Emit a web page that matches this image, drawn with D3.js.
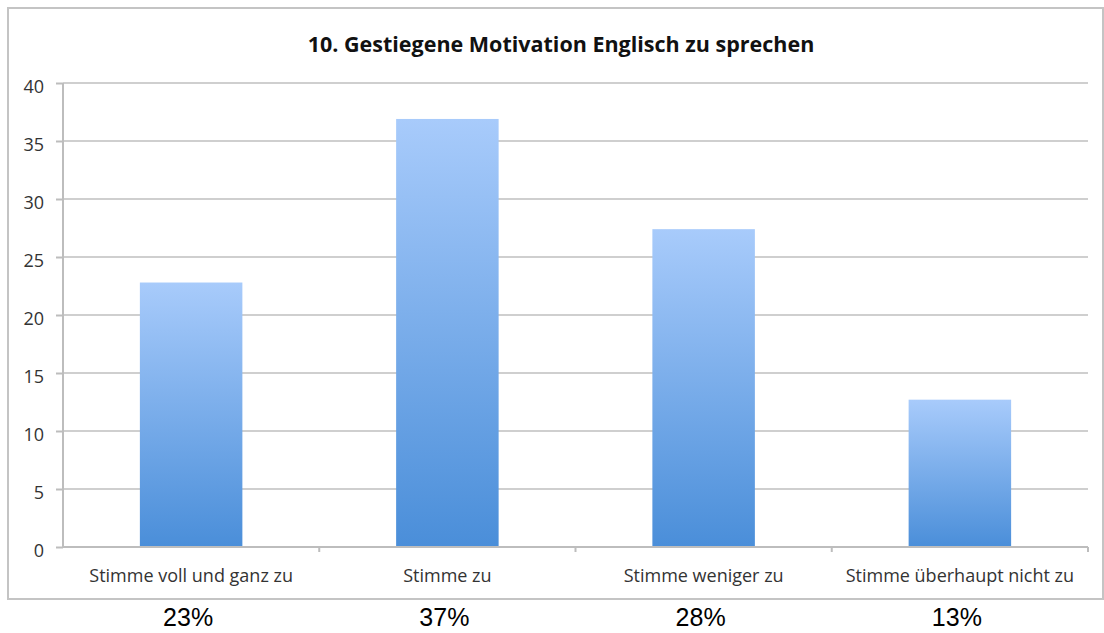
<html>
<head>
<script src="https://cdn.jsdelivr.net/npm/d3@7"></script>
<style>
  body { margin: 0; background: #fff; }
  .grid line { stroke: #cfcfcf; stroke-width: 2px; }
  .axis path, .axis line { stroke: #bdbdbd; stroke-width: 2px; }
  .axis text { font-family: "Open Sans", Lato, sans-serif; font-size: 18px; fill: #333; }
</style>
</head>
<body>
<script>
// Daten
var categories = ["Stimme voll und ganz zu", "Stimme zu", "Stimme weniger zu", "Stimme überhaupt nicht zu"];
var values = [22.8, 36.9, 27.4, 12.7];
var percents = ["23%", "37%", "28%", "13%"];
var yTicks = [0, 5, 10, 15, 20, 25, 30, 35, 40];
var title = "10. Gestiegene Motivation Englisch zu sprechen";

var W = 1104, H = 633;
var margin = {top: 83, left: 63, right: 16, bottom: 86};
var width = W - margin.left - margin.right,
    height = H - margin.top - margin.bottom;

var svg = d3.select("body").append("svg")
  .attr("width", W).attr("height", H);

var defs = svg.append("defs");
var grad = defs.append("linearGradient")
  .attr("id", "barGrad").attr("x1", 0).attr("y1", 0).attr("x2", 0).attr("y2", 1);
grad.append("stop").attr("offset", "0%").attr("stop-color", "#a8cbfb");
grad.append("stop").attr("offset", "100%").attr("stop-color", "#4a8ed9");

// Rahmen
svg.append("rect")
  .attr("x", 8).attr("y", 8).attr("width", 1095).attr("height", 591)
  .attr("fill", "#fff").attr("stroke", "#c4c4c4").attr("stroke-width", 2);

svg.append("text")
  .attr("x", 561).attr("y", 52)
  .attr("text-anchor", "middle")
  .style("font-family", "'Open Sans', Lato, sans-serif")
  .style("font-weight", "bold").style("font-size", "21.5px").style("fill", "#111")
  .text(title);

var g = svg.append("g").attr("transform", "translate(" + margin.left + "," + margin.top + ")");

var xb = d3.scaleBand().domain(categories).range([0, width]);
var y = d3.scaleLinear().domain([0, 40]).range([height, 0]);

// Gitterlinien
g.append("g").attr("class", "grid")
  .selectAll("line").data(yTicks.filter(function(d){ return d > 0; }))
  .enter().append("line")
  .attr("x1", 0).attr("x2", width)
  .attr("y1", function(d){ return y(d); }).attr("y2", function(d){ return y(d); });

// Balken
g.selectAll(".bar").data(values).enter().append("rect")
  .attr("class", "bar")
  .attr("x", function(d, i){ return xb(categories[i]) + xb.bandwidth() * 0.3; })
  .attr("width", xb.bandwidth() * 0.4)
  .attr("y", function(d){ return y(d); })
  .attr("height", function(d){ return height - y(d); })
  .attr("fill", "url(#barGrad)");

// Achsen
var yAxis = g.append("g").attr("class", "axis")
  .call(d3.axisLeft(y).tickValues(yTicks).tickSize(7).tickPadding(12));
yAxis.select(".domain").attr("d", "M0," + height + "V0");
yAxis.selectAll("text").attr("dy", "0.55em");

var xAxis = g.append("g").attr("class", "axis")
  .attr("transform", "translate(0," + height + ")")
  .call(d3.axisBottom(xb).tickSize(0).tickPadding(22));
xAxis.select(".domain").attr("d", "M0,0H" + width);
xAxis.selectAll(".sep").data(d3.range(1, categories.length + 1)).enter().append("line")
  .attr("x1", function(i){ return xb.step() * i; }).attr("x2", function(i){ return xb.step() * i; })
  .attr("y1", 0).attr("y2", 5);

// Prozentwerte
svg.selectAll(".pct").data(percents).enter().append("text")
  .attr("x", function(d, i){ return margin.left + xb(categories[i]) + xb.bandwidth() / 2 - 3; })
  .attr("y", 626)
  .attr("text-anchor", "middle")
  .style("font-family", "'Liberation Sans', Arial, sans-serif")
  .style("font-size", "25px").style("fill", "#000")
  .text(function(d){ return d; });
</script>
</body>
</html>
